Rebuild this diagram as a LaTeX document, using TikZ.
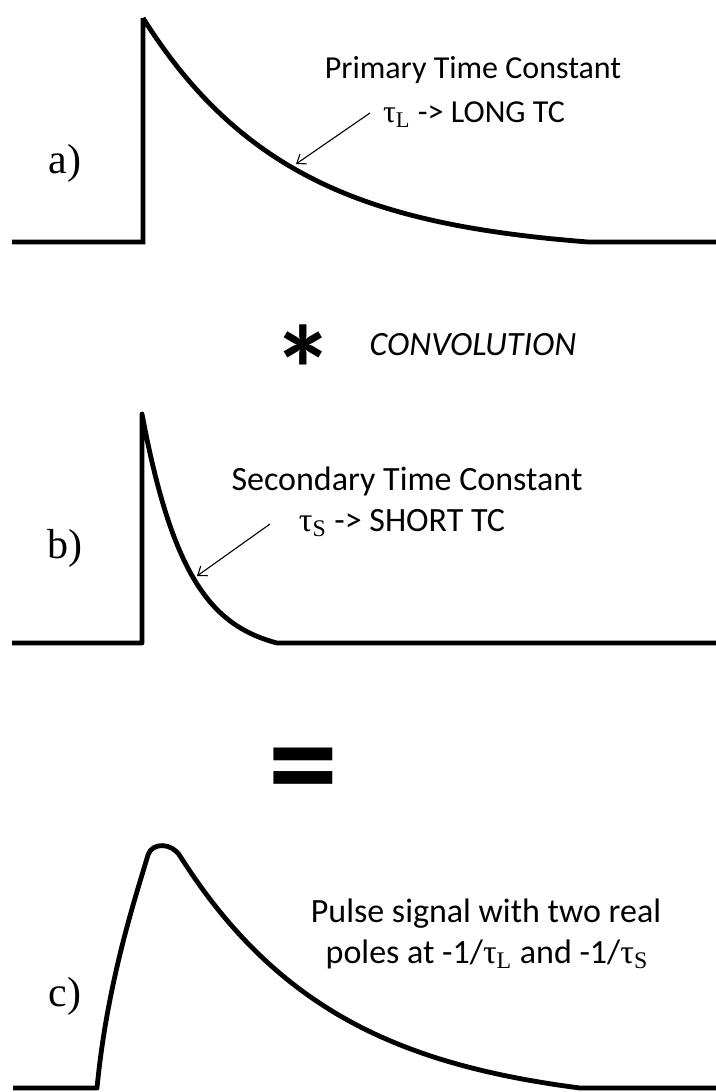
\documentclass[tikz,border=0pt]{standalone}
\usepackage{fontspec}
\setmainfont{Carlito}
\newfontfamily\tms{Liberation Serif}
\usetikzlibrary{arrows.meta}
\newcommand\tauX[1]{{\tms τ\textsubscript{#1}}}
\begin{document}
\begin{tikzpicture}[x=0.5pt,y=-0.5pt,
  sig/.style={line width=2.4pt},
  ptr/.style={line width=0.55pt,-{Straight Barb[length=4pt,width=6pt]}},
  txt/.style={font=\fontsize{17pt}{20pt}\selectfont, anchor=base, inner sep=0pt},
  txta/.style={txt, font=\fontsize{16pt}{19pt}\selectfont},
  lab/.style={font=\tms\fontsize{21pt}{25pt}\selectfont, inner sep=0pt}]
\useasboundingbox (0,0) rectangle (716,1092);
% panel a
\draw[sig,line join=miter] (12,242) -- (143,242) -- (143,18)
  -- plot[domain=0:445,samples=120] ({143+\x},{242-224*(exp(-\x/148)-0.0494)/0.9506})
  -- (716,242);
\node[lab] (la) at (65,163) {a)};
\node[txta] (ta1) at (473,78) {Primary Time Constant};
\node[txta] (ta2) at (474,122) {\tauX{L} -> LONG TC};
\coordinate (atail) at (370,113);
\coordinate (atip) at (296,164);
\draw[ptr] (atail) -- (atip);
% convolution
\node[font=\bfseries\fontsize{62pt}{62pt}\selectfont, inner sep=0pt, anchor=north] (star) at (303,324) {*};
\node[txt, font=\itshape\fontsize{17pt}{20pt}\selectfont] (conv) at (473,355) {CONVOLUTION};
% panel b
\draw[sig,line join=round] (12,643) -- (142,643) -- (142,414)
  -- plot[domain=0:135,samples=80] ({142+\x},{643-229*(exp(-\x/45)-0.0498)/0.9502})
  -- (716,643);
\node[lab] (lb) at (65,548) {b)};
\node[txt] (tb1) at (407,490) {Secondary Time Constant};
\node[txt] (tb2) at (402,531) {\tauX{S} -> SHORT TC};
\coordinate (btail) at (270,524);
\coordinate (btip) at (197,576);
\draw[ptr] (btail) -- (btip);
% equals
\node[font=\bfseries\fontsize{70pt}{70pt}\selectfont, inner sep=0pt, anchor=north] (eq) at (303,748) {=};
% panel c
\draw[sig,line join=round] (13,1088) -- (97,1088)
  .. controls (107,985) and (133,905) .. (148,855)
  .. controls (152,842) and (172,842.6) .. (180,856)
  -- plot[domain=0:400,samples=120] ({180+\x},{1088-232*(exp(-\x/160)-0.0821)/0.9179})
  -- (716,1088);
\node[lab] (lc) at (65,996) {c)};
\node[txt] (tc1) at (486,922) {Pulse signal with two real};
\node[txt] (tc2) at (487,963) {poles at -1/\tauX{L} and -1/\tauX{S}};
\end{tikzpicture}
\end{document}
